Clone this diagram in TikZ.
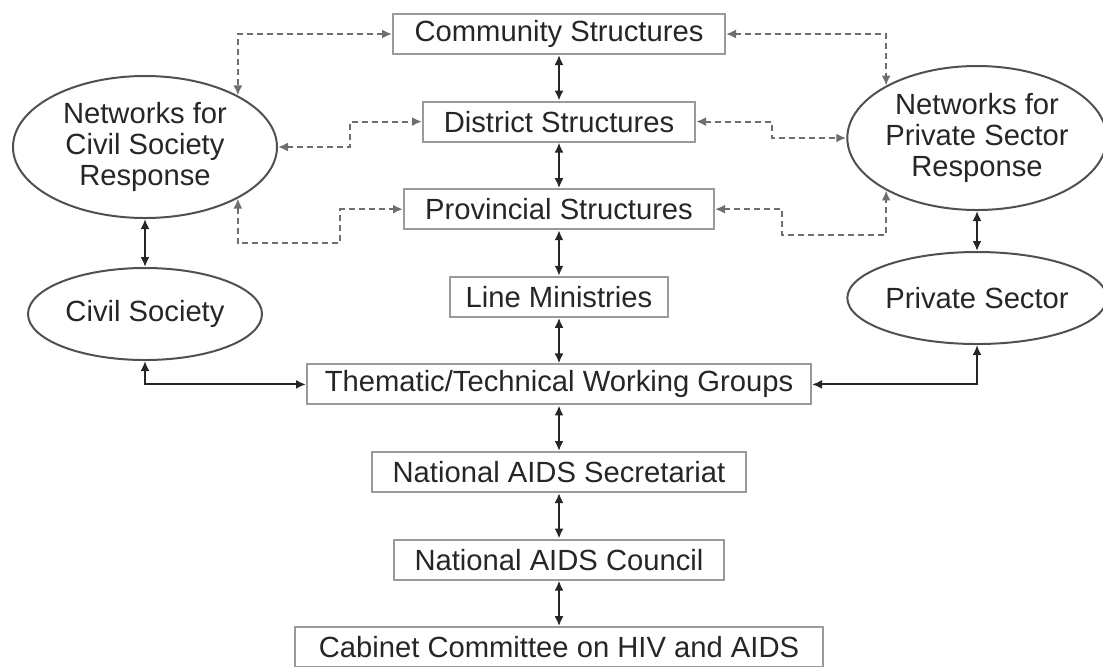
\documentclass[tikz,border=0pt]{standalone}
\usepackage{fontspec}
\setmainfont{Liberation Sans}
\usetikzlibrary{shapes.geometric, positioning, arrows.meta}

\definecolor{boxgray}{HTML}{9A9A9A}
\definecolor{ringgray}{HTML}{505050}
\definecolor{dashgray}{HTML}{6E6E6E}
\definecolor{inkgray}{HTML}{262626}

\tikzset{
  level/.style={draw=boxgray, line width=1pt, minimum height=20pt, inner sep=0pt, text=inkgray},
  group/.style={ellipse, draw=ringgray, line width=1pt, inner sep=0pt, align=center, text=inkgray},
  link/.style={<->, inkgray, line width=1pt},
  netlink/.style={<->, dashgray, line width=1pt, dash pattern=on 3pt off 2pt},
}

\begin{document}
\begin{tikzpicture}[x=0.5pt, y=-0.5pt, >={Latex[length=5pt,width=4.5pt]},
    node distance=22.8pt, font=\fontsize{14.6}{15.5}\selectfont]
    \useasboundingbox (0,0) rectangle (1103,666);

        % central column
        \node[level, minimum width=166pt] (comm) at (559,34) {Community Structures};
        \node[level, minimum width=136pt] (dist) [below=of comm] {District Structures};
        \node[level, minimum width=155pt] (prov) [below=of dist] {Provincial Structures};
        \node[level, minimum width=109pt] (line) [below=of prov] {Line Ministries};
        \node[level, minimum width=252pt] (them) [below=of line] {Thematic/Technical Working Groups};
        \node[level, minimum width=187pt] (sec) [below=of them] {National AIDS Secretariat};
        \node[level, minimum width=165pt] (nac) [below=of sec] {National AIDS Council};
        \node[level, minimum width=264pt] (cab) [below=of nac] {Cabinet Committee on HIV and AIDS};

        % side groups
        \node[group, minimum width=132pt, minimum height=71pt] (ncs) at (145,147) {Networks for\\Civil Society\\Response};
        \node[group, minimum width=117pt, minimum height=46pt] (cs) at (145,314) {Civil Society};
        \node[group, minimum width=126pt, minimum height=72pt] (nps) at (977,138) {Networks for\\Private Sector\\Response};
        \node[group, minimum width=117pt, minimum height=46pt] (ps) at (977,298) {Private Sector};

        % bends of the dashed links
        \coordinate (dl) at (350,147);
        \coordinate (pl) at (340,243);
        \coordinate (dr) at (772,138);
        \coordinate (pr) at (782,235);

		\path[link]
        (comm) edge (dist)
        (dist) edge (prov)
        (prov) edge (line)
        (line) edge (them)
        (them) edge (sec)
        (sec) edge (nac)
        (nac) edge (cab)
        (ncs) edge (cs)
        (nps) edge (ps);

        \draw[link] (cs.south) |- (them.west);
        \draw[link] (ps.south) |- (them.east);

        \draw[netlink] (comm.west) -| (ncs.29.5);
        \draw[netlink] (ncs.east) -- (dl) |- (dist.west);
        \draw[netlink] (ncs.-29.5) |- (pl) |- (prov.west);
        \draw[netlink] (comm.east) -| (nps.150);
        \draw[netlink] (dist.east) -| (dr) -- (nps.west);
        \draw[netlink] (prov.east) -| (pr) -| (nps.-150);

    \end{tikzpicture}
\end{document}
